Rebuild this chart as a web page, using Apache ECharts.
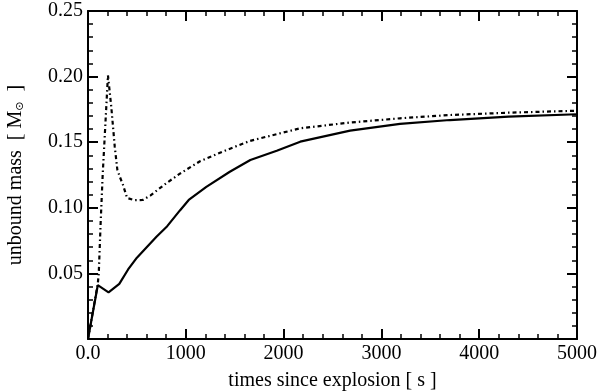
<!DOCTYPE html>
<html>
<head>
<meta charset="utf-8">
<script src="https://cdn.jsdelivr.net/npm/echarts@6/dist/echarts.min.js"></script>
<style>
  html, body { margin: 0; padding: 0; background: #fff; }
  #chart { width: 600px; height: 391px; }
</style>
</head>
<body>
<div id="chart"></div>
<script>
// solid curve
const timeSolid = [0, 100, 210, 320, 410, 500, 600, 700, 810, 940, 1030, 1210, 1450, 1660, 1930, 2170, 2680, 3190, 3700, 4300, 5000]
const massSolid = [0, 0.041, 0.0355, 0.042, 0.053, 0.062, 0.070, 0.078, 0.086, 0.098, 0.106, 0.116, 0.1275, 0.1364, 0.1435, 0.1504, 0.1588, 0.1639, 0.1669, 0.1695, 0.1713]

// dash-dot curve
const timeDotted = [0, 100, 110, 130, 150, 175, 204, 238, 273, 300, 325, 358, 400, 475, 560, 640, 800, 940, 1145, 1400, 1656, 2170, 2680, 3190, 3700, 4300, 5000]
const massDotted = [0, 0.042, 0.05, 0.09, 0.125, 0.16, 0.201, 0.177, 0.147, 0.129, 0.1237, 0.1174, 0.1075, 0.1058, 0.106, 0.1095, 0.1187, 0.126, 0.1355, 0.1435, 0.151, 0.1606, 0.165, 0.1682, 0.1707, 0.1725, 0.1740]

const xTicks = [0, 1000, 2000, 3000, 4000, 5000]
const yTicks = [0, 0.05, 0.10, 0.15, 0.20, 0.25]

const font = 'Liberation Serif'
const chart = echarts.init(document.getElementById('chart'))

const frame = { show: true, onZero: false, lineStyle: { color: '#000', width: 2 } }
const tick = { show: true, inside: true, length: 10, lineStyle: { color: '#000', width: 2 } }
const minor = { show: true, splitNumber: 5, length: 5, lineStyle: { color: '#000', width: 1.5 } }

const option = {
  animation: false,
  grid: { left: 88, right: 23, top: 11, bottom: 52, containLabel: false, outerBoundsMode: 'none' },
  xAxis: [
    {
      type: 'value',
      min: xTicks[0],
      max: xTicks[xTicks.length - 1],
      interval: 1000,
      name: 'times since explosion [ s ]',
      nameLocation: 'middle',
      nameGap: 32,
      nameTextStyle: { fontFamily: font, fontSize: 20, color: '#000' },
      axisLine: frame,
      axisTick: tick,
      minorTick: minor,
      splitLine: { show: false },
      axisLabel: {
        fontFamily: font, fontSize: 20, color: '#000', margin: 5,
        formatter: v => v === 0 ? '0.0' : String(v)
      }
    },
    {
      type: 'value',
      position: 'top',
      min: xTicks[0],
      max: xTicks[xTicks.length - 1],
      interval: 1000,
      axisLine: frame,
      axisTick: tick,
      minorTick: minor,
      splitLine: { show: false },
      axisLabel: { show: false }
    }
  ],
  yAxis: [
    {
      type: 'value',
      min: yTicks[0],
      max: yTicks[yTicks.length - 1],
      interval: 0.05,
      name: '{a|unbound mass  [ M}{s|⊙}{a|  ]}',
      nameLocation: 'middle',
      nameGap: 62,
      nameTextStyle: {
        color: '#000',
        rich: {
          a: { fontFamily: font, fontSize: 20, color: '#000' },
          s: { fontFamily: 'DejaVu Sans', fontSize: 11, color: '#000', verticalAlign: 'bottom', padding: [8, 0, 0, 0] }
        }
      },
      axisLine: frame,
      axisTick: tick,
      minorTick: minor,
      splitLine: { show: false },
      axisLabel: {
        fontFamily: font, fontSize: 20, color: '#000', margin: 5,
        formatter: v => v === 0 ? '' : v.toFixed(2)
      }
    },
    {
      type: 'value',
      position: 'right',
      min: yTicks[0],
      max: yTicks[yTicks.length - 1],
      interval: 0.05,
      axisLine: frame,
      axisTick: tick,
      minorTick: minor,
      splitLine: { show: false },
      axisLabel: { show: false }
    }
  ],
  series: [
    {
      type: 'line',
      data: timeSolid.map((t, i) => [t, massSolid[i]]),
      showSymbol: false,
      lineStyle: { color: '#000', width: 2.2 }
    },
    {
      type: 'line',
      data: timeDotted.map((t, i) => [t, massDotted[i]]),
      showSymbol: false,
      lineStyle: { color: '#000', width: 2.2, type: [4, 3, 1.5, 3] }
    }
  ]
}

chart.setOption(option)
</script>
</body>
</html>
